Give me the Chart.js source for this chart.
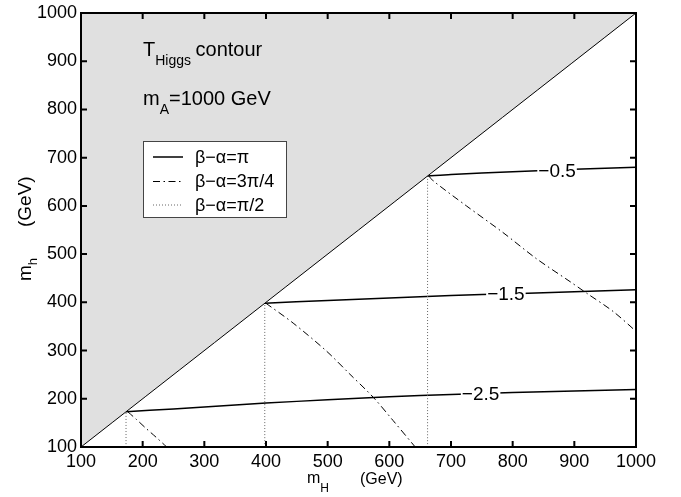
<!DOCTYPE html>
<html>
<head>
<meta charset="utf-8">
<title>T_Higgs contour</title>
<script src="https://cdn.jsdelivr.net/npm/chart.js@4.4.1/dist/chart.umd.min.js"></script>
<style>
  body { margin: 0; background: #fff; }
  canvas { display: block; }
</style>
</head>
<body>
<canvas id="contourChart" width="681" height="497"></canvas>
<script>
const xTicks = [100, 200, 300, 400, 500, 600, 700, 800, 900, 1000];
const yTicks = [100, 200, 300, 400, 500, 600, 700, 800, 900, 1000];

// mh = mH boundary, excluded region above it
const edgeX = [100, 1000];
const edgeY = [100, 1000];

// beta-alpha = pi contours
const lev25X = [173, 250, 300, 400, 500, 600, 700, 800, 900, 1000];
const lev25Y = [173, 179, 183, 191, 198, 204, 209, 213, 216, 219];
const lev15X = [398, 500, 600, 700, 800, 900, 1000];
const lev15Y = [398, 404, 409, 414, 418, 422, 426];
const lev05X = [662, 700, 800, 900, 1000];
const lev05Y = [662, 665, 671, 676, 680];

// beta-alpha = 3pi/4 contours
const dd1X = [176, 190, 206, 222, 239];
const dd1Y = [173, 157, 138, 120, 100];
const dd2X = [400, 444, 498, 536, 574, 606, 642];
const dd2Y = [398, 357, 299, 251, 203, 155, 100];
const dd3X = [664, 671, 725, 784, 838, 893, 920, 963, 1000];
const dd3Y = [662, 652, 600, 545, 491, 443, 419, 381, 340];

// beta-alpha = pi/2 contours (vertical)
const dotX = [173, 398, 662];

const levelNames = ['\u22122.5', '\u22121.5', '\u22120.5'];
const levelX = [748, 789, 872];
const levelY = [210, 418, 672];

const legendNames = ['\u03b2\u2212\u03b1=\u03c0', '\u03b2\u2212\u03b1=3\u03c0/4', '\u03b2\u2212\u03b1=\u03c0/2'];

const FONT = '"Liberation Sans", Arial, Helvetica, sans-serif';

const pts = (xs, ys) => xs.map((v, i) => ({ x: v, y: ys[i] }));

const solid = { borderColor: '#000', borderWidth: 1.5, fill: false };
const dashDot = { borderColor: '#000', borderWidth: 1, borderDash: [7, 3.5, 1.5, 3.5], fill: false };
const dotted = { borderColor: '#666', borderWidth: 1, borderDash: [1, 2], fill: false };

const datasets = [
  { data: pts(edgeX, edgeY), borderColor: '#000', borderWidth: 1, fill: 'end', backgroundColor: '#e0e0e0' },
  { ...dotted, legend: 2, data: pts([dotX[0], dotX[0]], [100, dotX[0]]) },
  { ...dotted, data: pts([dotX[1], dotX[1]], [100, dotX[1]]) },
  { ...dotted, data: pts([dotX[2], dotX[2]], [100, dotX[2]]) },
  { ...dashDot, legend: 1, data: pts(dd1X, dd1Y) },
  { ...dashDot, data: pts(dd2X, dd2Y) },
  { ...dashDot, data: pts(dd3X, dd3Y) },
  { ...solid, legend: 0, data: pts(lev25X, lev25Y) },
  { ...solid, data: pts(lev15X, lev15Y) },
  { ...solid, data: pts(lev05X, lev05Y) }
];

// text with a lowered subscript, returns x after it
function subText(ctx, base, sub, x, y, size, subSize, drop) {
  ctx.font = size + 'px ' + FONT;
  ctx.fillText(base, x, y);
  x += ctx.measureText(base).width;
  ctx.font = subSize + 'px ' + FONT;
  ctx.fillText(sub, x, y + drop);
  return x + ctx.measureText(sub).width;
}

const decorations = {
  id: 'decorations',
  afterDatasetsDraw(chart) {
    const { ctx, chartArea: a, scales: { x, y } } = chart;
    ctx.save();
    ctx.fillStyle = '#000';

    // inline contour labels
    ctx.font = '19px ' + FONT;
    ctx.textAlign = 'center';
    ctx.textBaseline = 'middle';
    levelNames.forEach((t, i) => {
      const px = x.getPixelForValue(levelX[i]);
      const py = y.getPixelForValue(levelY[i]);
      const w = ctx.measureText(t).width;
      ctx.fillStyle = '#fff';
      ctx.fillRect(px - w / 2 - 1, py - 7, w + 2, 14);
      ctx.fillStyle = '#000';
      ctx.fillText(t, px, py + 1);
    });

    // frame with inward ticks on all sides
    ctx.strokeStyle = '#000';
    ctx.lineWidth = 2;
    ctx.strokeRect(a.left, a.top, a.right - a.left, a.bottom - a.top);
    ctx.beginPath();
    xTicks.forEach(v => {
      const p = x.getPixelForValue(v);
      ctx.moveTo(p, a.bottom); ctx.lineTo(p, a.bottom - 6);
      ctx.moveTo(p, a.top); ctx.lineTo(p, a.top + 6);
    });
    yTicks.forEach(v => {
      const p = y.getPixelForValue(v);
      ctx.moveTo(a.left, p); ctx.lineTo(a.left + 6, p);
      ctx.moveTo(a.right, p); ctx.lineTo(a.right - 6, p);
    });
    ctx.stroke();

    // annotations in the shaded corner
    ctx.textAlign = 'left';
    ctx.textBaseline = 'alphabetic';
    let tx = subText(ctx, 'T', 'Higgs', 143, 56, 20, 14, 9);
    ctx.font = '20px ' + FONT;
    ctx.fillText(' contour', tx - 1, 56);
    tx = subText(ctx, 'm', 'A', 143, 105, 20, 14, 9);
    ctx.font = '20px ' + FONT;
    ctx.fillText('=1000 GeV', tx, 105);

    // legend
    const lx = 143.5, ly = 141.5, lw = 143, lh = 76;
    ctx.fillStyle = '#fff';
    ctx.fillRect(lx, ly, lw, lh);
    ctx.strokeStyle = '#444';
    ctx.lineWidth = 1;
    ctx.strokeRect(lx, ly, lw, lh);
    const rows = [157, 181.5, 205];
    chart.data.datasets.forEach(ds => {
      if (ds.legend === undefined) return;
      const ry = rows[ds.legend];
      ctx.strokeStyle = ds.borderColor;
      ctx.lineWidth = ds.borderWidth;
      ctx.setLineDash(ds.borderDash || []);
      ctx.beginPath();
      ctx.moveTo(153, ry); ctx.lineTo(183, ry);
      ctx.stroke();
      ctx.setLineDash([]);
      ctx.fillStyle = '#000';
      ctx.font = '18px ' + FONT;
      ctx.textBaseline = 'middle';
      ctx.fillText(legendNames[ds.legend], 195, ry + 1);
    });

    // axis titles
    ctx.textBaseline = 'alphabetic';
    ctx.fillStyle = '#000';
    subText(ctx, 'm', 'H', 307, 483, 16, 12, 9);
    ctx.font = '16px ' + FONT;
    ctx.fillText('(GeV)', 360, 484);

    ctx.translate(31, 281);
    ctx.rotate(-Math.PI / 2);
    subText(ctx, 'm', 'h', 0, 0, 19, 13, 6);
    ctx.font = '19px ' + FONT;
    ctx.fillText('(GeV)', 54, 0);
    ctx.restore();
  }
};

const tickFont = { family: FONT, size: 18, lineHeight: 1 };

new Chart(document.getElementById('contourChart').getContext('2d'), {
  type: 'line',
  data: { datasets: datasets },
  options: {
    responsive: false,
    animation: false,
    layout: { padding: { top: 9, right: 45, left: 0, bottom: 0 } },
    elements: { point: { radius: 0 }, line: { tension: 0.3 } },
    plugins: { legend: { display: false }, tooltip: { enabled: false } },
    scales: {
      x: {
        type: 'linear',
        min: 100,
        max: 1000,
        afterBuildTicks: s => { s.ticks = xTicks.map(v => ({ value: v })); },
        afterFit: s => { s.height = 50; },
        grid: { display: false, drawTicks: false },
        border: { display: false },
        ticks: { color: '#000', font: tickFont, padding: 6, maxRotation: 0, autoSkip: false, callback: v => String(v) }
      },
      y: {
        type: 'linear',
        min: 100,
        max: 1000,
        afterBuildTicks: s => { s.ticks = yTicks.map(v => ({ value: v })); },
        afterFit: s => { s.width = 81; },
        grid: { display: false, drawTicks: false },
        border: { display: false },
        ticks: { color: '#000', font: tickFont, padding: 4, autoSkip: false, callback: v => String(v) }
      }
    }
  },
  plugins: [decorations]
});
</script>
</body>
</html>
